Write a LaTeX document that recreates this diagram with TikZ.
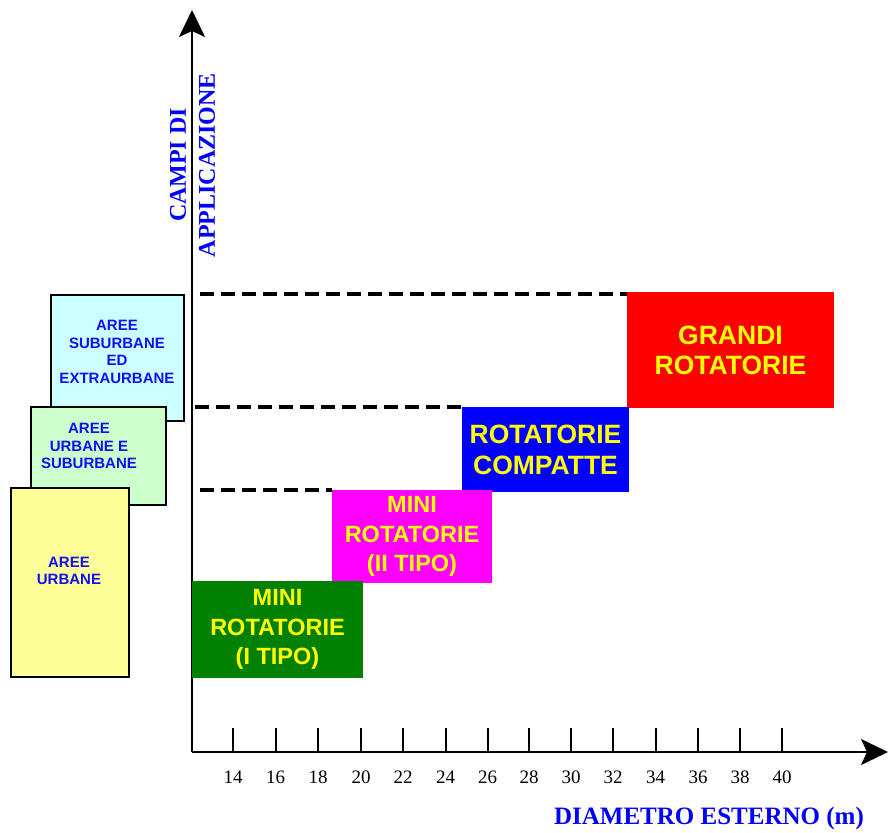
\documentclass[tikz,border=0pt]{standalone}
\usepackage{fontspec}
\setmainfont{Liberation Serif}
\setsansfont{Liberation Sans}
\usetikzlibrary{arrows.meta}
\definecolor{areablue}{HTML}{1010F0}
\definecolor{cyanbg}{HTML}{CCFFFF}
\definecolor{greenbg}{HTML}{CCFFCC}
\definecolor{yellowbg}{HTML}{FFFF99}
\definecolor{darkgreen}{HTML}{008000}
\definecolor{txtyellow}{HTML}{FFFF00}
\definecolor{boxmagenta}{HTML}{FF00FF}
\definecolor{boxblue}{HTML}{0000FF}
\definecolor{boxred}{HTML}{FF0000}
\begin{document}
\begin{tikzpicture}[x=1pt,y=-1pt,
  catbox/.style={draw=none, inner sep=0pt, align=center, text=txtyellow, font=\sffamily\bfseries},
  areabox/.style={draw=black, line width=2.5pt, inner sep=0pt},
  areatext/.style={inner sep=0pt, align=center, text=areablue, font=\sffamily\bfseries\fontsize{15}{17.7}\selectfont},
  axisline/.style={line width=2pt, -{Stealth[length=27pt,width=26pt,inset=6pt]}},
  guide/.style={line width=3.5pt, dash pattern=on 14pt off 7pt},
  tickline/.style={line width=2pt},
  ticklabel/.style={inner sep=0pt, font=\fontsize{19}{22}\selectfont},
  axislabel/.style={inner sep=0pt, align=center, text=boxblue, font=\bfseries\fontsize{24}{29}\selectfont}]
\useasboundingbox (0,0) rectangle (888,832);
\fill[white] (0,0) rectangle (888,832);

% left area boxes
\node[areabox, fill=cyanbg, minimum width=133pt, minimum height=126pt] (a3) at (117.5,358) {};
\node[areatext] (a3t) at (117,352) {AREE\\SUBURBANE\\ED\\EXTRAURBANE};
\node[areabox, fill=greenbg, minimum width=135pt, minimum height=98pt] (a2) at (98.5,456) {};
\node[areatext] (a2t) at (89,446) {AREE\\URBANE E\\SUBURBANE};
\node[areabox, fill=yellowbg, minimum width=118pt, minimum height=189pt] (a1) at (70,582.5) {};
\node[areatext] (a1t) at (69,571) {AREE\\URBANE};

% axes
\coordinate (O) at (192,752);
\coordinate (ytip) at (192,10);
\coordinate (xtip) at (888,752);
\draw[axisline] (O) -- (ytip);
\draw[axisline] (O) -- (xtip);

% ticks
\foreach \v/\x in {14/233,16/275.5,18/318,20/361,22/403,24/445.5,26/487.5,28/529,30/571,32/613,34/655.5,36/698,38/740,40/782} {
  \coordinate (t\v) at (\x,752);
  \coordinate (tt\v) at (\x,728);
  \draw[tickline] (t\v) -- (tt\v);
  \node[ticklabel] (l\v) at (\x,777) {\v};
}

% category boxes
\node[catbox, fill=boxred, minimum width=207pt, minimum height=116pt, font=\sffamily\bfseries\fontsize{26.5}{30}\selectfont] (gr) at (730.5,350) {GRANDI\\ROTATORIE};
\node[catbox, fill=boxblue, minimum width=167pt, minimum height=85pt, font=\sffamily\bfseries\fontsize{26.5}{31}\selectfont] (rc) at (545.5,449.5) {ROTATORIE\\COMPATTE};
\node[catbox, fill=boxmagenta, minimum width=160pt, minimum height=93pt, font=\sffamily\bfseries\fontsize{23.5}{29.5}\selectfont] (m2) at (412,536.5) {MINI\\ROTATORIE\\(II TIPO)};
\node[catbox, fill=darkgreen, minimum width=171pt, minimum height=97pt, font=\sffamily\bfseries\fontsize{23.5}{29.5}\selectfont] (m1) at (277.5,629.5) {MINI\\ROTATORIE\\(I TIPO)};

% dashed guides
\coordinate (d1) at (200,294);
\coordinate (d2) at (195,407);
\coordinate (d3) at (200,490);
\draw[guide] (d1) -- (d1 -| gr.west);
\draw[guide] (d2) -- (d2 -| rc.west);
\draw[guide] (d3) -- (d3 -| m2.west);

% axis labels
\node[axislabel, rotate=90] (yl) at (192.5,165) {CAMPI DI\\APPLICAZIONE};
\node[axislabel, font=\bfseries\fontsize{25}{29}\selectfont] (xl) at (709,818) {DIAMETRO ESTERNO (m)};
\end{tikzpicture}
\end{document}
